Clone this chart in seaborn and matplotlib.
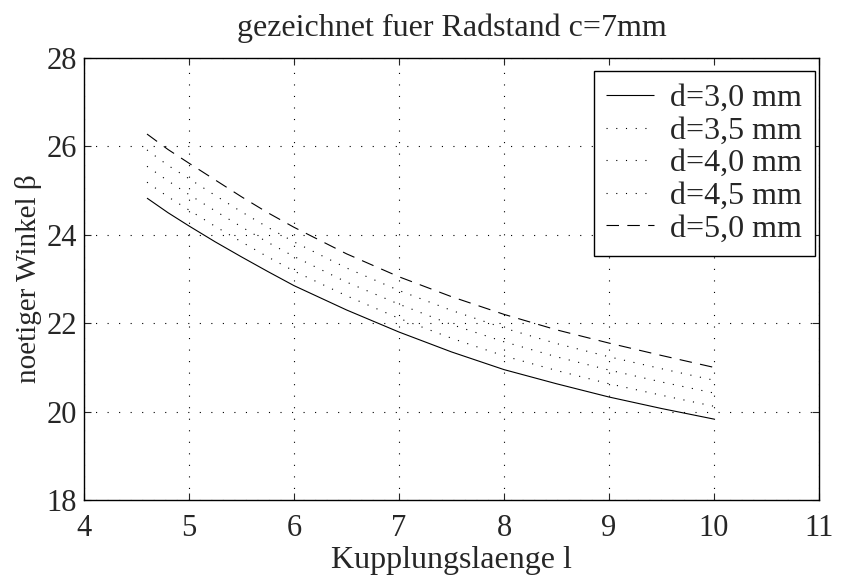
import numpy as np
import pandas as pd
import matplotlib
matplotlib.use('Agg')
import matplotlib.pyplot as plt
import seaborn as sns

# Kupplungslaenge l (x) and required angle beta for each wheel diameter d
laenge = [4.6, 4.8, 5.0, 5.25, 5.5, 5.75, 6.0, 6.5, 7.0, 7.5, 8.0, 8.5, 9.0, 9.5, 10.0]
winkel_d30 = [24.83, 24.50, 24.20, 23.84, 23.50, 23.17, 22.85, 22.30, 21.80, 21.35, 20.95, 20.63, 20.33, 20.07, 19.83]
winkel_d35 = [25.19, 24.86, 24.56, 24.19, 23.84, 23.50, 23.18, 22.62, 22.11, 21.66, 21.26, 20.93, 20.63, 20.37, 20.12]
winkel_d40 = [25.55, 25.22, 24.91, 24.54, 24.18, 23.83, 23.51, 22.93, 22.43, 21.97, 21.58, 21.24, 20.94, 20.67, 20.42]
winkel_d45 = [25.92, 25.57, 25.27, 24.89, 24.52, 24.17, 23.84, 23.25, 22.74, 22.29, 21.89, 21.54, 21.24, 20.97, 20.71]
winkel_d50 = [26.28, 25.93, 25.62, 25.24, 24.86, 24.50, 24.17, 23.57, 23.05, 22.60, 22.20, 21.85, 21.55, 21.27, 21.00]

labels = ['d=3,0 mm', 'd=3,5 mm', 'd=4,0 mm', 'd=4,5 mm', 'd=5,0 mm']
serien = [winkel_d30, winkel_d35, winkel_d40, winkel_d45, winkel_d50]

sns.set_style('ticks')
plt.rcParams['font.family'] = ['Liberation Serif', 'DejaVu Serif']
plt.rcParams['lines.scale_dashes'] = False

fig = plt.figure(figsize=(8.44, 5.77), dpi=100)
ax = fig.add_axes([84 / 844, 1 - 500 / 577, (819 - 84) / 844, (500 - 58) / 577])

styles = [(0, ()), (0, (0.8, 6.2)), (0, (0.8, 6.2)), (0, (0.8, 6.2)), (0, (9, 6))]
for werte, lab, ls in zip(serien, labels, styles):
    df = pd.DataFrame({'l': laenge, 'beta': werte})
    sns.lineplot(data=df, x='l', y='beta', ax=ax, color='black', linewidth=0.8,
                 linestyle=ls, label=lab)

ax.set_xlim(4, 11)
ax.set_ylim(18, 28)
ax.set_xticks(range(4, 12))
ax.set_yticks(range(18, 29, 2))
ax.grid(True, color='black', linewidth=0.8, linestyle=(0, (0.8, 7.5)))
ax.tick_params(direction='in', top=True, right=True, labelsize=22, length=5,
               width=0.8)
ax.tick_params(axis='x', pad=10)
ax.tick_params(axis='y', pad=5)
for sp in ax.spines.values():
    sp.set_visible(True)
    sp.set_linewidth(1.0)
    sp.set_color('black')

ax.set_xlabel('Kupplungslaenge l', fontsize=23, labelpad=2)
ax.set_ylabel('noetiger Winkel β', fontsize=21, labelpad=3)
ax.set_title('gezeichnet fuer Radstand c=7mm', fontsize=23, pad=16)

leg = ax.legend(loc='upper right', bbox_to_anchor=(815 / 844, 1 - 71 / 577),
                bbox_transform=fig.transFigure, fontsize=23, frameon=True,
                fancybox=False, edgecolor='black', framealpha=1,
                handlelength=1.5, handletextpad=0.5, labelspacing=0.1,
                borderaxespad=0, borderpad=0.4)
leg.get_frame().set_linewidth(1.0)

fig.savefig('out.png', dpi=100)
